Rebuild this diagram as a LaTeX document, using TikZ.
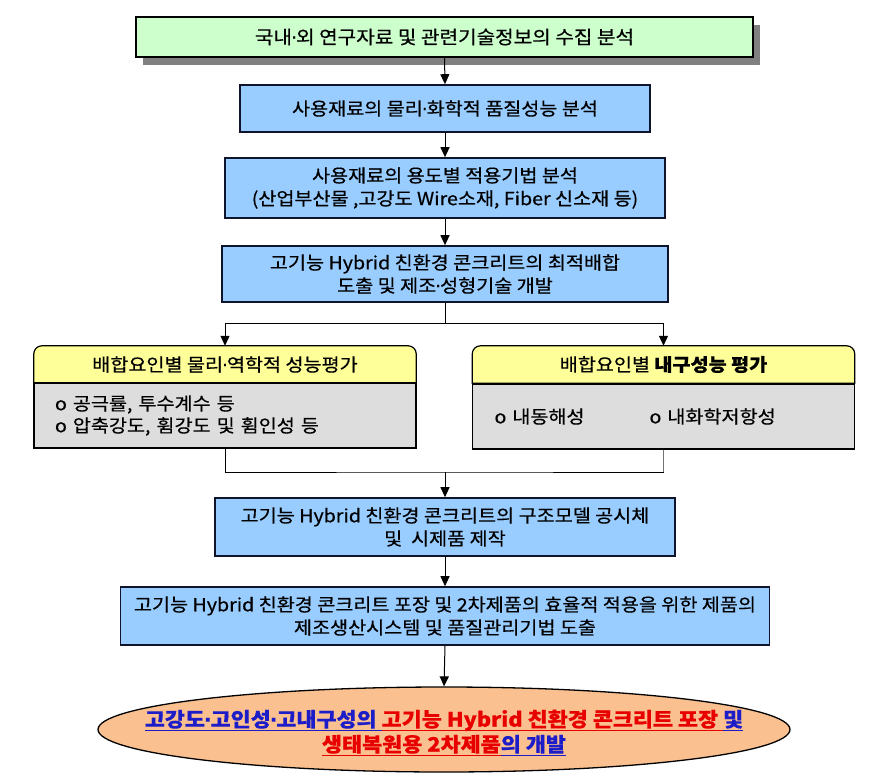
\documentclass[tikz,border=0pt]{standalone}
\usepackage{fontspec}
\setmainfont{Noto Sans CJK KR}[FakeStretch=1.09, FakeBold=0.5]
\newfontfamily\dotfont{DejaVu Sans}[FakeBold=0.5]
\newcommand{\myul}[1]{\setbox0=\hbox{#1}\rlap{\rule[-4.5pt]{\wd0}{1.6pt}}\box0}
\newcommand{\md}{\kern-0.05em{\dotfont ·}\kern-0.05em}
\usetikzlibrary{arrows.meta,shapes.geometric,shadows}
\definecolor{grnfill}{HTML}{CCFFCC}
\definecolor{bluefill}{HTML}{99CCFF}
\definecolor{yelfill}{HTML}{FFFF99}
\definecolor{grayfill}{HTML}{DDDDDD}
\definecolor{peach}{HTML}{FAC090}
\definecolor{ublue}{HTML}{1C1CC8}
\definecolor{ured}{HTML}{E80000}
\definecolor{navy}{HTML}{10142A}
\pgfdeclarelayer{bg}
\pgfsetlayers{bg,main}
\begin{document}
\begin{tikzpicture}[x=1pt,y=-1pt,
  txt/.style={font=\fontsize{18}{23}\selectfont, align=center, inner sep=0pt},
  greenbox/.style={txt, font=\fontsize{18.5}{23}\selectfont, draw=black, line width=1.2pt, fill=grnfill,
    drop shadow={shadow xshift=7pt, shadow yshift=-8pt, fill=black!50, opacity=1}},
  flowbox/.style={txt, draw=navy, line width=1.6pt, fill=bluefill},
  panelhead/.style={txt, minimum width=382pt, minimum height=37pt},
  panelbody/.style={font=\fontsize{18}{22}\selectfont, align=left, draw=black, line width=1.2pt,
    fill=grayfill, minimum height=65pt, inner ysep=0pt},
  conn/.style={line width=1pt, draw=black},
  arr/.style={conn, -{Triangle[length=10pt,width=9pt]}},
]
\useasboundingbox (0,0) rectangle (882,783);

% main flow boxes
\node[greenbox, minimum width=617pt, minimum height=40pt] (g) at (444.5,37) {국내\md 외 연구자료 및 관련기술정보의 수집 분석};
\node[flowbox, minimum width=410pt, minimum height=47pt] (b1) at (445,108.5) {사용재료의 물리\md 화학적 품질성능 분석};
\node[flowbox, minimum width=440pt, minimum height=60pt] (b2) at (445,188) {사용재료의 용도별 적용기법 분석\\(산업부산물 ,고강도 Wire소재, Fiber 신소재 등)};
\node[flowbox, minimum width=446pt, minimum height=56pt] (b3) at (445,274) {고기능 Hybrid 친환경 콘크리트의 최적배합\\도출 및 제조\md 성형기술 개발};

% left panel
\node[panelhead] (lh) at (225,364.5) {배합요인별 물리\md 역학적 성능평가};
\node[panelbody, text width=340pt, inner xsep=21pt] (lb) at (225,415.5) {o 공극률, 투수계수 등\\o 압축강도, 휨강도 및 휨인성 등};
% right panel
\node[panelhead] (rh) at (663.5,364.5) {배합요인별 \textbf{내구성능 평가}};
\node[panelbody, text width=338pt, inner xsep=22pt] (rb) at (663.5,416.5) {\makebox[155pt][l]{o 내동해성}o 내화학저항성};
\begin{pgfonlayer}{bg}
  \foreach \h in {lh,rh}{
    \draw[line width=1.2pt, fill=yelfill] (\h.south west) -- ([yshift=-8pt]\h.north west)
      arc[start angle=180, end angle=90, radius=8pt] -- ([xshift=-8pt]\h.north east)
      arc[start angle=90, end angle=0, radius=8pt] -- (\h.south east) -- cycle;
  }
\end{pgfonlayer}

\node[flowbox, minimum width=460pt, minimum height=58pt] (b4) at (445,527) {고기능 Hybrid 친환경 콘크리트의 구조모델 공시체\\및 \ 시제품 제작};
\node[flowbox, minimum width=649pt, minimum height=58pt] (b5) at (445,616) {고기능 Hybrid 친환경 콘크리트 포장 및 2차제품의 효율적 적용을 위한 제품의\\제조생산시스템 및 품질관리기법 도출};

% final ellipse
\node[ellipse, draw=black, line width=1.3pt, fill=peach, minimum width=692pt, minimum height=85pt, inner sep=0pt] (fin) at (444,729.5) {};
\node[font=\fontsize{20}{25}\selectfont\bfseries, align=center, inner sep=0pt] (fint) at (444,733)
 {\textcolor{ublue}{\myul{고강도\md 고인성\md 고내구성의~}}\textcolor{ured}{\myul{고기능 Hybrid 친환경 콘크리트 포장~}}\textcolor{ublue}{\myul{및}}\\
  \textcolor{ured}{\myul{생태복원용 2차제품}}\textcolor{ublue}{\myul{의 개발}}};

% connectors
\coordinate (sp) at (445,323);
\coordinate (jn) at (445,472);
\draw[arr] (g.south) -- (b1.north);
\draw[arr] (b1.south) -- (b2.north);
\draw[arr] (b2.south) -- (b3.north);
\draw[conn] (b3.south) -- (sp);
\draw[arr] (sp) -| (lh.north);
\draw[arr] (sp) -| (rh.north);
\draw[conn] (lb.south) |- (jn) -- (jn -| rb.south);
\draw[conn, draw=black!55] (rb.south) -- (jn -| rb.south);
\draw[arr] (jn) -- (b4.north);
\draw[arr] (b4.south) -- (b5.north);
\draw[arr] (b5.south) -- (fin.north);
\end{tikzpicture}
\end{document}
